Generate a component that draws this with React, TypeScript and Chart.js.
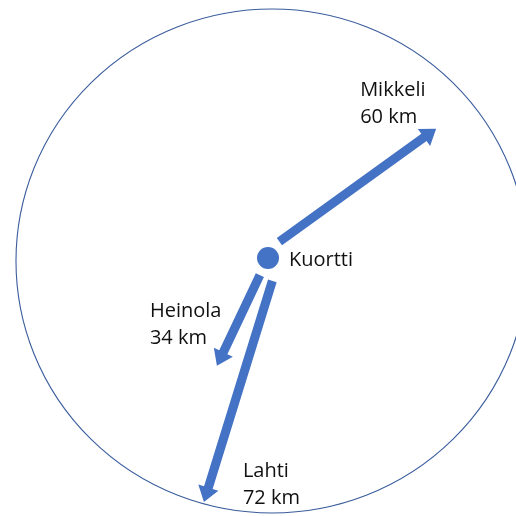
import React, { useEffect, useRef } from "react";
import { Chart, registerables } from "chart.js";

Chart.register(...registerables);

// ---- Data ----
const centreName = "Kuortti";
const destinations = ["Mikkeli", "Heinola", "Lahti"];
const distancesKm = [60, 34, 72];
const bearingsDeg = [52, 205, 194.5]; // compass bearing from Kuortti
const ringRadiusKm = 72;

// ---- Style / layout ----
const BLUE = "#4472C4";
const RING = "#3A5C9C";
const TEXT = "#111111";
const FONT = '20px "Open Sans", "Noto Sans", sans-serif';
const arrowGapPx = [19, 19, 21];
const arrowLateralPx = [-6, 0, -10];
const labelOffsetPx = [
  [-76, -33],
  [-67, -49],
  [39, -25],
];
const centreLabelOffsetPx = [21, 8];
const ringOffsetPx = [4, 3];
const lineHeightPx = 27;

const X_MIN = -75.37;
const X_MAX = 69.74;
const Y_MIN = -73.71;
const Y_MAX = 73.71;

function drawArrow(ctx: CanvasRenderingContext2D, sx: number, sy: number, tx: number, ty: number) {
  const w = 9, hw = 21, hl = 15;
  const dx = tx - sx, dy = ty - sy;
  const len = Math.hypot(dx, dy);
  const ux = dx / len, uy = dy / len;
  const nx = -uy, ny = ux;
  const bx = tx - ux * hl, by = ty - uy * hl;
  ctx.beginPath();
  ctx.moveTo(sx + nx * w / 2, sy + ny * w / 2);
  ctx.lineTo(bx + nx * w / 2, by + ny * w / 2);
  ctx.lineTo(bx + nx * hw / 2, by + ny * hw / 2);
  ctx.lineTo(tx, ty);
  ctx.lineTo(bx - nx * hw / 2, by - ny * hw / 2);
  ctx.lineTo(bx - nx * w / 2, by - ny * w / 2);
  ctx.lineTo(sx - nx * w / 2, sy - ny * w / 2);
  ctx.closePath();
  ctx.fillStyle = BLUE;
  ctx.fill();
}

const mapPlugin = {
  id: "mapPlugin",
  beforeDatasetsDraw(chart: any) {
    const ctx: CanvasRenderingContext2D = chart.ctx;
    const xs = chart.scales.x, ys = chart.scales.y;
    const cx = xs.getPixelForValue(0), cy = ys.getPixelForValue(0);
    const rx = xs.getPixelForValue(ringRadiusKm) - cx;
    const ry = cy - ys.getPixelForValue(ringRadiusKm);
    ctx.save();
    ctx.beginPath();
    ctx.ellipse(cx + ringOffsetPx[0], cy + ringOffsetPx[1], rx, ry, 0, 0, Math.PI * 2);
    ctx.strokeStyle = RING;
    ctx.lineWidth = 1.1;
    ctx.stroke();

    destinations.forEach((name, i) => {
      const b = (bearingsDeg[i] * Math.PI) / 180;
      const ex = distancesKm[i] * Math.sin(b);
      const ey = distancesKm[i] * Math.cos(b);
      const tx = xs.getPixelForValue(ex);
      const ty = ys.getPixelForValue(ey);
      const dx = tx - cx, dy = ty - cy;
      const l = Math.hypot(dx, dy);
      const ux = dx / l, uy = dy / l;
      const px = -uy, py = ux;
      const sx = cx + ux * arrowGapPx[i] + px * arrowLateralPx[i];
      const sy = cy + uy * arrowGapPx[i] + py * arrowLateralPx[i];
      drawArrow(ctx, sx, sy, tx, ty);

      ctx.fillStyle = TEXT;
      ctx.font = FONT;
      ctx.textAlign = "left";
      ctx.textBaseline = "alphabetic";
      const lx = tx + labelOffsetPx[i][0];
      const ly = ty + labelOffsetPx[i][1];
      ctx.fillText(name, lx, ly);
      ctx.fillText(`${distancesKm[i]} km`, lx, ly + lineHeightPx);
    });
    ctx.restore();
  },
  afterDatasetsDraw(chart: any) {
    const ctx: CanvasRenderingContext2D = chart.ctx;
    const xs = chart.scales.x, ys = chart.scales.y;
    const cx = xs.getPixelForValue(0), cy = ys.getPixelForValue(0);
    ctx.save();
    ctx.fillStyle = TEXT;
    ctx.font = FONT;
    ctx.textAlign = "left";
    ctx.textBaseline = "alphabetic";
    ctx.fillText(centreName, cx + centreLabelOffsetPx[0], cy + centreLabelOffsetPx[1]);
    ctx.restore();
  },
};

export default function App() {
  const ref = useRef<HTMLCanvasElement | null>(null);
  useEffect(() => {
    if (!ref.current) return;
    const chart = new Chart(ref.current, {
      type: "scatter",
      data: {
        datasets: [
          {
            label: centreName,
            data: [{ x: 0, y: 0 }],
            pointRadius: 11,
            pointHoverRadius: 11,
            backgroundColor: BLUE,
            borderWidth: 0,
          },
        ],
      },
      options: {
        animation: false,
        responsive: false,
        layout: { padding: 0, autoPadding: false },
        plugins: { legend: { display: false }, tooltip: { enabled: false } },
        scales: {
          x: { type: "linear", min: X_MIN, max: X_MAX, display: false },
          y: { type: "linear", min: Y_MIN, max: Y_MAX, display: false },
        },
        events: [],
      },
      plugins: [mapPlugin],
    });
    return () => chart.destroy();
  }, []);
  return (
    <div style={{ position: "absolute", left: 0, top: 0, width: 516, height: 516, background: "#fff" }}>
      <canvas ref={ref} width={516} height={516} style={{ display: "block" }} />
    </div>
  );
}
